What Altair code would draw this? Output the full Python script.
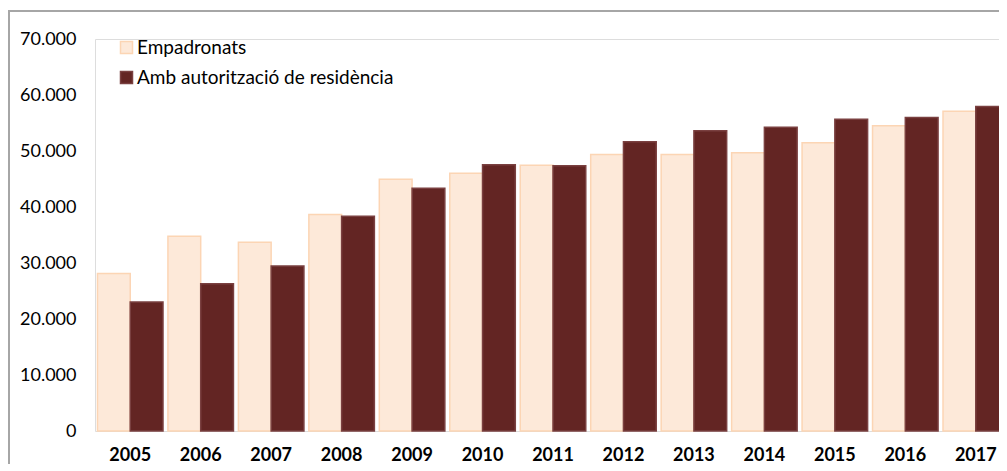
import altair as alt
import pandas as pd

years = ["2005", "2006", "2007", "2008", "2009", "2010", "2011",
         "2012", "2013", "2014", "2015", "2016", "2017"]
empadronats = [28140, 34760, 33690, 38640, 44960, 46030, 47460,
               49370, 49370, 49680, 51470, 54500, 57120]
autoritzacio = [23020, 26300, 29460, 38340, 43350, 47530, 47350,
                51650, 53610, 54260, 55690, 56000, 57960]
series = ["Empadronats", "Amb autorització de residència"]
y_ticks = [0, 10000, 20000, 30000, 40000, 50000, 60000, 70000]

rows = []
for i, yr in enumerate(years):
    rows.append({"year": yr, "serie": series[0], "value": empadronats[i]})
    rows.append({"year": yr, "serie": series[1], "value": autoritzacio[i]})
df = pd.DataFrame(rows)

FONT = "Lato"

bars = alt.Chart(df).mark_bar(strokeWidth=1.5).encode(
    x=alt.X("year:N", sort=years, title=None,
            scale=alt.Scale(range=[0, 916], paddingInner=0.07, paddingOuter=0.035),
            axis=alt.Axis(labelAngle=0, labelFontWeight="bold", labelFont=FONT,
                          labelFontSize=18, labelColor="#000000", labelPadding=15,
                          domain=False, ticks=False, grid=False)),
    xOffset=alt.XOffset("serie:N", sort=series),
    y=alt.Y("value:Q", title=None,
            scale=alt.Scale(domain=[0, 70000], nice=False),
            axis=alt.Axis(values=y_ticks, labelFont=FONT, labelFontSize=18,
                          labelColor="#000000", labelPadding=19,
                          labelExpr="replace(format(datum.value, ','), ',', '.')",
                          domain=False, ticks=False, grid=False)),
    fill=alt.Fill("serie:N", sort=series,
                  scale=alt.Scale(domain=series, range=["#fde9d9", "#632523"]),
                  legend=alt.Legend(title=None, orient="none", legendX=22, legendY=-1,
                                    symbolType="square", symbolSize=144,
                                    labelFont=FONT, labelFontSize=19, labelLimit=400,
                                    labelColor="#000000", labelOffset=1,
                                    rowPadding=10, symbolStrokeWidth=1.5)),
    stroke=alt.Stroke("serie:N", sort=series,
                      scale=alt.Scale(domain=series, range=["#fcd5b4", "#7a4040"]),
                      legend=None),
)

frame_df = pd.DataFrame({"k": [0]})
left_border = alt.Chart(frame_df).mark_rule(color="#a6a6a6", strokeWidth=2).encode(
    x=alt.value(-86), y=alt.value(-29), y2=alt.value(460))
top_border = alt.Chart(frame_df).mark_rule(color="#a6a6a6", strokeWidth=2).encode(
    x=alt.value(-87), x2=alt.value(1000), y=alt.value(-28))

chart = alt.layer(bars, left_border, top_border).properties(
    width=904, height=392,
    autosize=alt.AutoSizeParams(type="none"),
    padding={"left": 87, "top": 31, "right": 0, "bottom": 33},
).configure_view(stroke=None).configure(background="#ffffff")

chart.save("out.html", embed_options={"renderer": "svg", "actions": False})
